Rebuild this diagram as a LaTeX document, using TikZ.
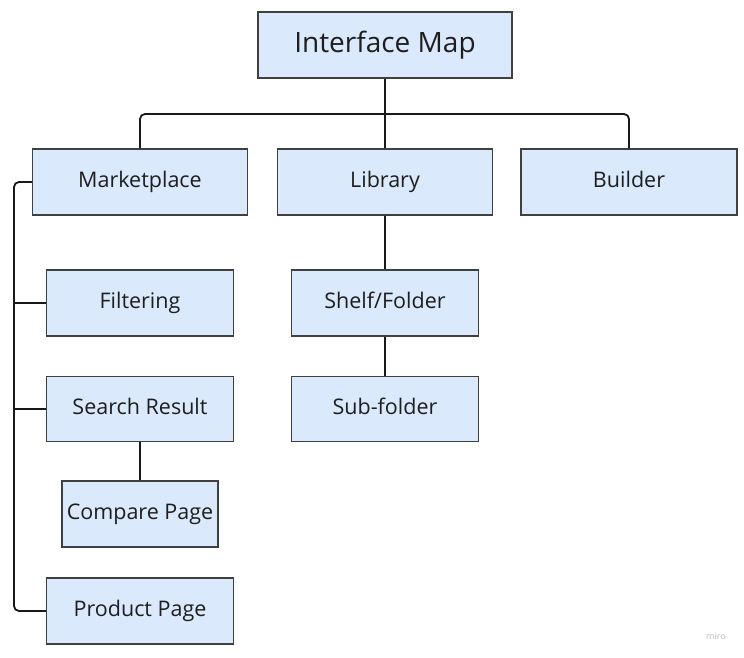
\documentclass[tikz,border=0pt]{standalone}
\usepackage{fontspec}
\setmainfont{Open Sans}
\begin{document}
\begin{tikzpicture}[x=1pt,y=-1pt,
  box/.style={draw=boxline, fill=boxfill, line width=1.1pt, rectangle, inner sep=0pt,
    text=textcol, font=\fontsize{21.5}{25}\selectfont, minimum height=66pt,
    text height=15.5pt, text depth=4.5pt},
  conn/.style={line width=1.8pt, draw=black!90, rounded corners=5pt}]
\definecolor{boxfill}{HTML}{DBE9FC}
\definecolor{boxline}{HTML}{404040}
\definecolor{textcol}{HTML}{1E1E1E}
\useasboundingbox[fill=white] (0,0) rectangle (744,657);

\node[box, minimum width=254pt, font=\fontsize{28}{32}\selectfont, text height=20pt, text depth=6pt] (im) at (385,45) {Interface Map};
\node[box, minimum width=215pt] (mk) at (140,182) {Marketplace};
\node[box, minimum width=215pt] (lib) at (385,182) {Library};
\node[box, minimum width=216pt] (bd) at (629,182) {Builder};
\node[box, minimum width=187pt] (flt) at (140,303) {Filtering};
\node[box, minimum width=187pt, minimum height=65pt] (sr) at (140,409) {Search Result};
\node[box, minimum width=156pt] (cp) at (140,514) {Compare Page};
\node[box, minimum width=187pt] (pp) at (140,611) {Product Page};
\node[box, minimum width=187pt] (sf) at (385,303) {Shelf/Folder};
\node[box, minimum width=187pt, minimum height=65pt] (sub) at (385,409) {Sub-folder};

\coordinate (bus) at (385,114);
\coordinate (lbus) at (14,0);

\draw[conn] (mk.north) |- (bus) -| (bd.north);
\draw[conn] (im.south) -- (lib.north);
\draw[conn] (lib.south) -- (sf.north);
\draw[conn] (sf.south) -- (sub.north);
\draw[conn] (sr.south) -- (cp.north);
\draw[conn] (mk.west) -- (mk.west -| lbus) |- (pp.west);
\draw[conn] (flt.west) -- (flt.west -| lbus);
\draw[conn] (sr.west) -- (sr.west -| lbus);

\node[text=black!25, font=\fontsize{9}{10}\selectfont] (miro) at (716,636) {miro};
\end{tikzpicture}
\end{document}
